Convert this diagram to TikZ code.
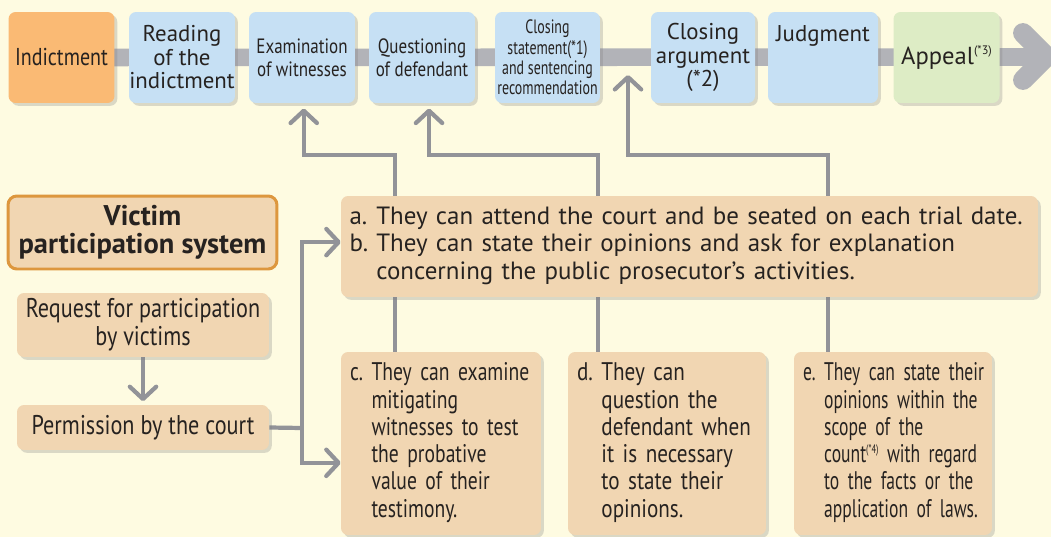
\documentclass[tikz,border=0pt]{standalone}
\usepackage{fontspec}
\setmainfont{PT Sans}
\newfontfamily\condfont[FakeStretch=0.82]{PT Sans}
\newfontfamily\itemfontc[FakeStretch=0.77]{PT Sans}
\newfontfamily\itemfontd[FakeStretch=0.83]{PT Sans}
\newfontfamily\itemfonte[FakeStretch=0.69]{PT Sans}
\newfontfamily\narrowfont[FakeStretch=0.72]{PT Sans}
\usetikzlibrary{shadows,arrows.meta}
\definecolor{bgyellow}{RGB}{254,251,225}
\definecolor{steporange}{RGB}{250,186,116}
\definecolor{stepblue}{RGB}{198,224,244}
\definecolor{stepgreen}{RGB}{221,236,197}
\definecolor{victan}{RGB}{241,214,178}
\definecolor{vicborder}{RGB}{221,151,62}
\definecolor{linegray}{RGB}{146,147,152}
\definecolor{bandgray}{RGB}{178,179,184}
\definecolor{inkgray}{RGB}{38,34,32}
\newcommand\stepfont{\fontsize{13}{13.4}\selectfont}
\newcommand\stepfontc{\condfont\fontsize{11.8}{13}\selectfont}
\newcommand\stepfontn{\narrowfont\fontsize{11}{11.6}\selectfont}
\newcommand\vicfont{\bfseries\fontsize{16.2}{16}\selectfont}
\newcommand\leftfont{\condfont\fontsize{15.4}{16}\selectfont}
\newcommand\boxfont{\fontsize{14.2}{15.6}\selectfont}
\newcommand\itemsize{\fontsize{14.5}{15.5}\selectfont}
\newcommand\supnote[1]{\raisebox{.75ex}{\fontsize{7}{7}\selectfont(#1)}}
\pgfdeclarelayer{bg}
\pgfdeclarelayer{lines}
\pgfsetlayers{bg,lines,main}
\tikzset{
  boxshadow/.style={drop shadow={shadow xshift=1.6pt,shadow yshift=-1.6pt,opacity=.28}},
  stagebox/.style={rounded corners=4pt, minimum width=2.12cm, minimum height=1.82cm,
    inner sep=0pt, align=center, text=inkgray, boxshadow},
  vicbox/.style={rounded corners=4pt, fill=victan, inner sep=0pt, align=center,
    text=inkgray, font=\leftfont, boxshadow},
  itembox/.style={vicbox, minimum height=3.66cm, align=left},
  conn/.style={draw=linegray, line width=2.4pt},
  arrowtip/.tip={Straight Barb[length=7pt,width=15pt,round]},
  bandline/.style={draw=bandgray, line width=10pt},
  chevron/.style={draw=bandgray, line width=11.3pt, line cap=round}
}
\begin{document}
\begin{tikzpicture}[x=0.02cm, y=-0.02cm]
\begin{pgfonlayer}{bg}
\fill[bgyellow] (0,0) rectangle (1051,537);
\end{pgfonlayer}
\useasboundingbox (0,0) rectangle (1051,537);

\node[stagebox, fill=steporange, font=\condfont\fontsize{13.9}{14}\selectfont] (indict) at (61.5,57.5) {Indictment};
\node[stagebox, fill=stepblue, font=\stepfont] (read) at (182,57.5) {Reading\\of the\\indictment};
\node[stagebox, fill=stepblue, font=\stepfontc] (exam) at (302,57.5) {Examination\\of witnesses};
\node[stagebox, fill=stepblue, font=\stepfontc] (quest) at (422,57.5) {Questioning\\of defendant};
\node[stagebox, fill=stepblue, font=\stepfontn, minimum width=2.1cm] (clstate) at (547.5,57.5) {Closing\\statement(*1)\\and sentencing\\recommendation};
\node[stagebox, fill=stepblue, font=\stepfont, minimum width=2.08cm] (clarg) at (703,57.5) {Closing\\argument\\(*2)};
\node[stagebox, fill=stepblue, font=\stepfont, minimum width=2.2cm] (judg) at (823,57.5) {Judgment\\\mbox{}\\\mbox{}};
\node[stagebox, fill=stepgreen, font=\fontsize{14}{14}\selectfont] (appeal) at (946.5,57.5) {Appeal\supnote{*3}};

\node[rounded corners=5pt, draw=vicborder, line width=1.7pt, fill=victan, text=inkgray,
  minimum width=5.38cm, minimum height=1.46cm, align=center, font=\vicfont] (victim) at (142.5,232.5) {Victim\\participation system};
\node[vicbox, minimum width=5.04cm, minimum height=1.28cm] (request) at (143,325) {Request for participation\\by victims};
\node[vicbox, minimum width=5.04cm, minimum height=0.9cm] (perm) at (143,427.5) {Permission by the court};

\node[vicbox, minimum width=13.94cm, minimum height=2.02cm, text width=13.6cm, align=left, font=\boxfont] (ab) at (689.5,246.5)
  {\begin{tabular}{@{}l@{\ }l@{}}a.&They can attend the court and be seated on each trial date.\\
   b.&They can state their opinions and ask for explanation\\
   &concerning the public prosecutor’s activities.\end{tabular}};
\node[itembox, minimum width=4cm, text width=3.64cm, font=\itemfontc\itemsize] (c) at (441,443.5)
  {\begin{tabular}{@{}l@{\ }l@{}}c.&They can examine\\&mitigating\\&witnesses to test\\&the probative\\&value of their\\&testimony.\end{tabular}};
\node[itembox, minimum width=3.96cm, text width=3.6cm, font=\itemfontd\itemsize] (d) at (667,443.5)
  {\begin{tabular}{@{}l@{\ }l@{}}d.&They can\\&question the\\&defendant when\\&it is necessary\\&to state their\\&opinions.\end{tabular}};
\node[itembox, minimum width=3.96cm, text width=3.6cm, font=\itemfonte\itemsize] (e) at (893,443.5)
  {\begin{tabular}{@{}l@{\ }l@{}}e.&They can state their\\&opinions within the\\&scope of the\\&count\supnote{*4} with regard\\&to the facts or the\\&application of laws.\end{tabular}};

\coordinate (bendexam) at (395,155);
\coordinate (bendquest) at (598,155);
\coordinate (bendarg) at (828,155);
\coordinate (argin) at (628,75);
\coordinate (split) at (302,428);

\begin{pgfonlayer}{lines}
\draw[bandline] (indict.center) -- (1040,57);
\draw[chevron] (1023,33) -- (1046.5,56.5) -- (1023,80);
\draw[conn, -arrowtip] (bendexam |- c.north) -- (bendexam) -| ([xshift=1pt,yshift=-3pt]exam.south);
\draw[conn, -arrowtip] (bendquest |- d.north) -- (bendquest) -| ([xshift=4pt,yshift=-3pt]quest.south);
\draw[conn, -arrowtip] (bendarg |- e.north) -- (bendarg) -| (argin);
\draw[conn] (perm.east) -- (split);
\draw[conn, -arrowtip] (split) |- ([yshift=2.5pt]ab.west);
\draw[conn, -arrowtip] (split) |- ([yshift=-11pt]c.west);
\draw[conn, -arrowtip, shorten >=2pt] (request) -- (perm);
\end{pgfonlayer}
\end{tikzpicture}
\end{document}
